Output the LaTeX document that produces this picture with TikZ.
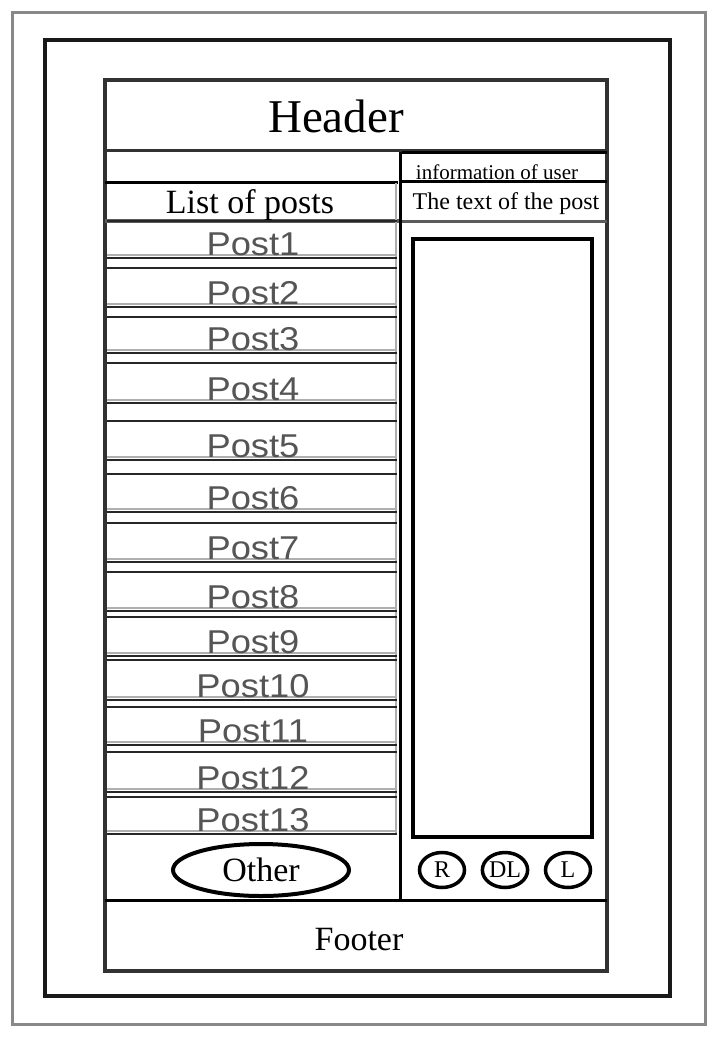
\documentclass[tikz,border=0pt]{standalone}
\usepackage{fontspec}
\setmainfont{Liberation Serif}
\newfontfamily\postfont{Liberation Sans}
\usetikzlibrary{shapes.geometric,positioning}

\definecolor{framegray}{RGB}{136,136,136}
\definecolor{darkline}{RGB}{50,50,50}
\definecolor{postgray}{RGB}{85,85,85}
\definecolor{stripe}{RGB}{175,175,175}

\tikzset{
 rule/.style={line width=3pt,draw=darkline},
 caption/.style={inner sep=0pt},
 posttext/.style={inner sep=0pt,text=postgray,font=\postfont\fontsize{33}{33}\selectfont},
 button/.style={ellipse,draw,line width=3.5pt,inner sep=0pt,minimum width=45pt,minimum height=35pt,font=\fontsize{24}{24}\selectfont}
}

\begin{document}
\begin{tikzpicture}[x=1pt,y=-1pt,node distance=63pt,on grid]
 \useasboundingbox[fill=white] (0,0) rectangle (719,1043);
 % frames
 \draw[line width=3pt,draw=framegray] (12,13) rectangle (705,1024);
 \draw[line width=4pt,draw=black!90] (45,40) rectangle (670,996);
 \draw[line width=4pt,draw=darkline] (105,80) rectangle (607,971);
 % header and top rows
 \node[caption,font=\fontsize{47}{47}\selectfont] (header) at (336,116) {Header};
 \draw[rule] (105,151) -- (607,151);
 \draw[rule,draw=black] (105,183) -- (398,183);
 \draw[line width=4pt,draw=darkline!80] (105,221) -- (400,221);
 \draw[rule,draw=black] (402,153) -- (607,153);
 \draw[rule,draw=black] (402,182) -- (607,182);
 \draw[rule,draw=darkline!80] (400,221) -- (607,221);
 \node[caption,font=\fontsize{34}{34}\selectfont] (listposts) at (250,205) {List of posts};
 \node[caption,font=\fontsize{21}{21}\selectfont] (userinfo) at (497,172) {information of user};
 \node[caption,font=\fontsize{24}{24}\selectfont] (posttitle) at (506,204) {The text of the post};
 % column divider
 \draw[line width=2pt,draw=stripe] (396,183) -- (396,835);
 \draw[rule,draw=black] (400,152) -- (400,900);
 % list of posts
 \foreach \t/\b [count=\i] in {221/258,268/307,317/353,363/403,421/460,474/512,523/562,
   572/611,617/656,660/700,707/745,752/792,797/834}{
  \draw[line width=2.5pt,draw=black!85] (107,\t) -- (397,\t);
  \draw[line width=1.5pt,draw=stripe] (107,{\b-3}) -- (397,{\b-3});
  \draw[line width=2.5pt,draw=black!85] (107,\b) -- (397,\b);
  \node[posttext] (post\i) at (253,{\b-14}) {\scalebox{1.1}[1]{Post\i}};
 }
 % text area and buttons
 \draw[line width=4.5pt] (413,239) rectangle (592,837);
 \node[button] (btnR) at (442,870) {R};
 \node[button] (btnDL) [right=of btnR] {DL};
 \node[button] (btnL) [right=of btnDL] {L};
 \node[ellipse,draw,line width=4pt,inner sep=0pt,minimum width=176pt,minimum height=52pt,
   font=\fontsize{34}{34}\selectfont] (other) at (261,870) {Other};
 % footer
 \draw[rule,draw=black] (105,900) -- (607,900);
 \node[caption,font=\fontsize{34}{34}\selectfont] (footer) at (359,940) {Footer};
\end{tikzpicture}
\end{document}
